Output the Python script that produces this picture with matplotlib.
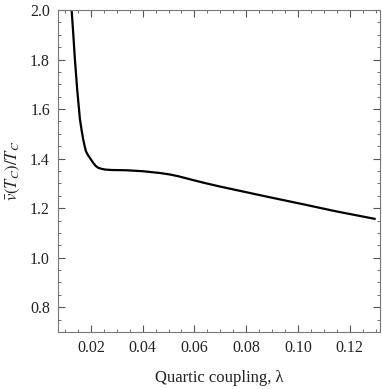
import matplotlib
matplotlib.use("Agg")
import matplotlib.pyplot as plt
from matplotlib.ticker import MultipleLocator, FormatStrFormatter

# Values
lam = [0.01255, 0.01317, 0.01382, 0.01471, 0.01575, 0.01640, 0.01703,
       0.01760, 0.01807, 0.01880, 0.01961, 0.02030, 0.02090, 0.02180,
       0.02280, 0.02400, 0.02540, 0.02800, 0.03380, 0.04020, 0.04660,
       0.05050, 0.05370, 0.05850, 0.06340, 0.07000, 0.07620, 0.08910,
       0.10190, 0.11480, 0.12960]
vt = [2.000, 1.906, 1.800, 1.678, 1.560, 1.515, 1.477,
      1.450, 1.430, 1.415, 1.403, 1.392, 1.383, 1.371,
      1.363, 1.359, 1.356, 1.354, 1.353, 1.349, 1.342,
      1.336, 1.329, 1.316, 1.303, 1.287, 1.273, 1.244,
      1.216, 1.187, 1.157]

plt.rcParams["font.family"] = ["Liberation Serif", "DejaVu Serif"]
plt.rcParams["mathtext.fontset"] = "stix"

fig = plt.figure(figsize=(3.82, 3.89), dpi=100)
ax = fig.add_axes([0.1526, 0.1465, 0.8422, 0.8278])

ax.plot(lam, vt, color="black", lw=1.6, solid_joinstyle="round")

ax.set_xlim(0.0074, 0.1317)
ax.set_ylim(0.7, 2.0)
ax.xaxis.set_major_locator(MultipleLocator(0.02))
ax.xaxis.set_minor_locator(MultipleLocator(0.005))
ax.yaxis.set_major_locator(MultipleLocator(0.2))
ax.yaxis.set_minor_locator(MultipleLocator(0.05))
ax.xaxis.set_major_formatter(FormatStrFormatter("%.2f"))
ax.yaxis.set_major_formatter(FormatStrFormatter("%.1f"))

ax.tick_params(which="both", direction="in", top=True, right=True,
               color="#555555", labelsize=11.5, labelcolor="#222222")
ax.tick_params(which="major", length=5, width=0.8, pad=6)
ax.tick_params(which="minor", length=2.5, width=0.6)
for s in ax.spines.values():
    s.set_color("#777777")
    s.set_linewidth(0.8)

ax.set_xlabel("Quartic coupling, \u03bb", fontsize=12, color="#222222", labelpad=10)
ax.set_ylabel(r"$\bar{v}(T_C)/T_C$", fontsize=12, color="#222222", labelpad=6)

fig.savefig("out.png", dpi=100)
